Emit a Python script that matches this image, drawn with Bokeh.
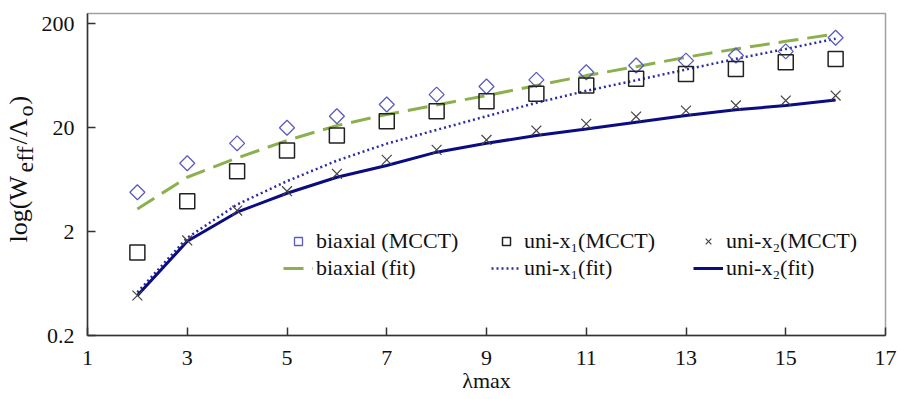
import numpy as np
from bokeh.plotting import figure
from bokeh.models import Range1d, FixedTicker, Legend, LegendItem
from bokeh.layouts import row
from bokeh.core.properties import value
from bokeh.embed import file_html
from bokeh.resources import INLINE

# ---- data ----
lam = [2, 3, 4, 5, 6, 7, 8, 9, 10, 11, 12, 13, 14, 15, 16]
biaxial_mcct = [4.78, 9.08, 14.1, 19.9, 25.7, 33.3, 41.5, 49.6, 57.5, 68.0, 78.9, 88.1, 98.5, 108, 146]
uni_x1_mcct = [1.26, 3.91, 7.6, 12.0, 16.8, 23.0, 28.7, 35.8, 42.2, 50.7, 58.8, 65.6, 73.3, 84.9, 91.4]
uni_x2_mcct = [0.485, 1.64, 3.18, 4.89, 7.18, 9.78, 12.2, 15.2, 18.7, 21.7, 25.5, 29.1, 32.6, 36.4, 40.6]
biaxial_fit = [3.3, 6.65, 10.2, 15.0, 20.9, 26.7, 33.0, 40.6, 50.7, 63.2, 77.0, 94.9, 114, 135, 159]
uni_x1_fit = [0.52, 1.74, 3.64, 6.1, 9.6, 14.0, 19.0, 25.7, 34.6, 45.1, 57.0, 72.3, 91.6, 114, 143]
uni_x2_fit = [0.485, 1.61, 3.07, 4.67, 6.65, 8.63, 11.6, 14.1, 16.8, 19.4, 22.5, 26.1, 29.6, 32.6, 36.9]

x_ticks = [1, 3, 5, 7, 9, 11, 13, 15, 17]
y_ticks = [0.2, 2, 20, 200]
y_tick_labels = ["0.2", "2", "20", "200"]

legend_labels = ["biaxial (MCCT)", "uni-x\u2081(MCCT)", "uni-x\u2082(MCCT)",
                 "biaxial (fit)", "uni-x\u2081(fit)", "uni-x\u2082(fit)"]

FONT = "Liberation Serif"
TXT = "#111111"
TOTAL_H = 399
FY_W = 38
FRAME_TOP = 13
FRAME_BOTTOM = 335

# ---- main plot ----
p = figure(width=898 - FY_W, height=TOTAL_H, x_range=Range1d(1, 17), y_range=Range1d(0.2, 250),
           y_axis_type="log", output_backend="svg", toolbar_location=None,
           min_border_left=84 - FY_W, min_border_right=13, min_border_top=FRAME_TOP,
           min_border_bottom=TOTAL_H - FRAME_BOTTOM)
p.title.visible = False
p.xgrid.visible = False
p.ygrid.visible = False
p.outline_line_color = "#a0a0a0"
p.outline_line_width = 1.5
p.background_fill_color = "white"
p.border_fill_color = "white"

p.xaxis.ticker = FixedTicker(ticks=x_ticks)
p.yaxis.ticker = FixedTicker(ticks=y_ticks)
p.yaxis.major_label_overrides = {t: s for t, s in zip(y_ticks, y_tick_labels)}

for ax in (p.xaxis, p.yaxis):
    ax.major_tick_in = 8
    ax.major_tick_out = 0
    ax.minor_tick_line_color = None
    ax.axis_line_color = "#333333"
    ax.axis_line_width = 1.5
    ax.major_tick_line_color = "#333333"
    ax.major_tick_line_width = 1.5
    ax.major_label_text_font = FONT
    ax.major_label_text_font_size = "22px"
    ax.major_label_text_color = TXT
p.xaxis.major_label_standoff = 15
p.yaxis.major_label_standoff = 13

# x-axis title
p.xaxis.axis_label = "\u03bbmax"
p.xaxis.axis_label_standoff = 0
p.xaxis.axis_label_text_font = FONT
p.xaxis.axis_label_text_font_size = "22px"
p.xaxis.axis_label_text_font_style = "normal"
p.xaxis.axis_label_text_color = TXT

r_gf = p.line(lam, biaxial_fit, line_color="#8db04e", line_width=3, line_dash="20 9")
r_df = p.line(lam, uni_x1_fit, line_color="#2b2ba8", line_width=2.5, line_dash="2 3")
r_sf = p.line(lam, uni_x2_fit, line_color="#0b0b82", line_width=3)
r_bd = p.scatter(lam, biaxial_mcct, marker="square", angle=np.pi / 4, size=10.6,
                 fill_color=None, line_color="#5b5bbf", line_width=1.3)
r_sq = p.scatter(lam, uni_x1_mcct, marker="square", size=15,
                 fill_color=None, line_color="#222222", line_width=1.5)
r_x = p.scatter(lam, uni_x2_mcct, marker="x", size=14,
                line_color="#444444", line_width=1.2)

cols = [(196, [r_bd, r_gf], [legend_labels[0], legend_labels[3]]),
        (404, [r_sq, r_df], [legend_labels[1], legend_labels[4]]),
        (606, [r_x, r_sf], [legend_labels[2], legend_labels[5]])]
for vx, rs, labs in cols:
    leg = Legend(items=[LegendItem(label=l, renderers=[r]) for l, r in zip(labs, rs)],
                 location=(vx, 54), padding=0, margin=0, border_line_color=None,
                 background_fill_alpha=0, glyph_width=30, glyph_height=20,
                 label_standoff=3, spacing=1, label_height=20,
                 label_text_font=FONT, label_text_font_size="22px",
                 label_text_color=TXT)
    p.add_layout(leg)

# ---- y-axis title strip: log(W_eff / Λ_o) ----
# In a row, Bokeh aligns this strip's frame with the main frame (page y 13..335),
# so its y range is given in "page pixels from the bottom of the layout".
fy = figure(width=FY_W, height=TOTAL_H, x_range=Range1d(0, FY_W),
            y_range=Range1d(TOTAL_H - FRAME_BOTTOM, TOTAL_H - FRAME_TOP),
            output_backend="svg", toolbar_location=None,
            x_axis_location=None, y_axis_location=None,
            min_border_left=0, min_border_right=0, min_border_top=0, min_border_bottom=0)
fy.title.visible = False
fy.xgrid.visible = False
fy.ygrid.visible = False
fy.outline_line_color = None
fy.background_fill_color = "white"
fy.border_fill_color = "white"


def ytxt(x, y, s, size):
    fy.text(x=[x], y=[y], text=[s], angle=np.pi / 2, text_font=value(FONT),
            text_font_size=value(size), text_color=TXT,
            text_align="left", text_baseline="middle")


ytxt(18.0, TOTAL_H - 242, "log(W", "26px")
ytxt(24.3, TOTAL_H - 172, "eff", "24px")
ytxt(18.0, TOTAL_H - 144, "/\u039b", "26px")
ytxt(25.3, TOTAL_H - 116, "o", "22px")
ytxt(18.0, TOTAL_H - 104, ")", "26px")

layout = row(fy, p)
open("out.html", "w").write(file_html(layout, INLINE))
